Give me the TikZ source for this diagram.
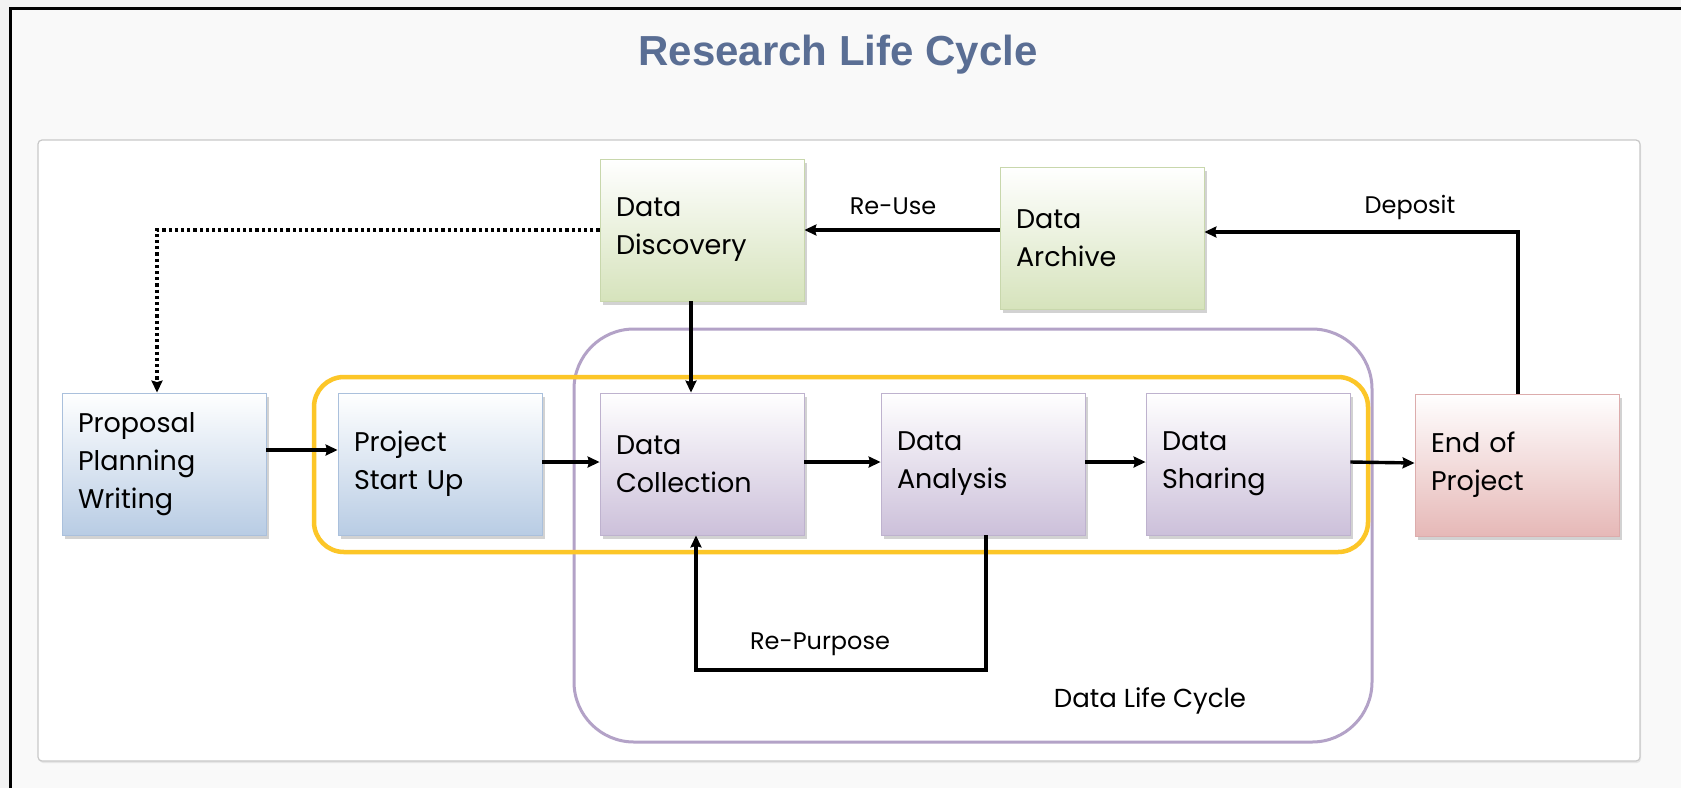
\documentclass[tikz,border=0pt]{standalone}
\usepackage{fontspec}
\setmainfont{Poppins}
\newfontfamily\titlefont{Liberation Sans}
\usetikzlibrary{arrows.meta,shadows}
\definecolor{bg_outer}{RGB}{242,242,242}
\definecolor{bg_inner}{RGB}{249,249,249}
\definecolor{panel_gray}{RGB}{200,200,200}
\definecolor{title_blue}{RGB}{90,110,148}
\definecolor{fill_blue}{RGB}{184,204,228}
\definecolor{line_blue}{RGB}{170,192,220}
\definecolor{fill_purple}{RGB}{204,192,218}
\definecolor{line_purple}{RGB}{190,178,206}
\definecolor{fill_green}{RGB}{214,227,188}
\definecolor{line_green}{RGB}{200,215,172}
\definecolor{fill_red}{RGB}{230,184,183}
\definecolor{line_red}{RGB}{220,172,172}
\definecolor{cycle_purple}{RGB}{179,162,199}
\definecolor{focus_yellow}{RGB}{252,198,40}

\begin{document}
\begin{tikzpicture}[x=1pt,y=-1pt,>={Stealth[length=12pt,width=11pt,inset=1.5pt]}]
    \tikzstyle{stage}=[draw, line width=0.8pt, minimum width=204pt, text width=172pt, inner xsep=16pt, inner ysep=0pt, minimum height=142pt, align=left, font=\fontsize{27}{38}\selectfont, drop shadow={shadow xshift=3pt,shadow yshift=-4pt,opacity=0.35}]
    \tikzstyle{bluestage}=[stage, draw=line_blue, top color=white, bottom color=fill_blue]
    \tikzstyle{purplestage}=[stage, draw=line_purple, top color=white, bottom color=fill_purple]
    \tikzstyle{greenstage}=[stage, draw=line_green, top color=white, bottom color=fill_green]
    \tikzstyle{redstage}=[stage, draw=line_red, top color=white, bottom color=fill_red]
    \tikzstyle{flow}=[->, line width=3.4pt]
    \tikzstyle{dotflow}=[->, line width=3.2pt, dash pattern=on 3.2pt off 3pt]
    \tikzstyle{tag}=[anchor=base, font=\fontsize{24}{28}\selectfont]

    \useasboundingbox (0,0) rectangle (1681,788);
    \fill[bg_outer] (0,0) rectangle (1681,788);
    \fill[bg_inner] (10,8) rectangle (1681,788);
    \draw[line width=3pt] (10,788) -- (10,8) -- (1681,8);
    \draw[panel_gray, fill=white, rounded corners=4pt, line width=1.2pt, drop shadow={shadow xshift=1pt,shadow yshift=-2pt,opacity=0.15}] (38,140) rectangle (1640,761);

    \node[anchor=base, text=title_blue, font=\titlefont\bfseries\fontsize{42}{50}\selectfont] (title) at (838,65) {Research Life Cycle};

    \draw[cycle_purple, line width=3pt, rounded corners=60pt] (574,329) rectangle (1372,742);
    \draw[focus_yellow, line width=4.5pt, rounded corners=30pt] (314,377) rectangle (1368,552);

    \node[bluestage]   (prop)  at (164,464)  {Proposal\\Planning\\Writing};
    \node[bluestage]   (start) at (440,464)  {Project\\Start Up};
    \node[purplestage] (coll)  at (702,464)  {Data\\Collection};
    \node[purplestage] (anal)  at (983,464)  {Data\\Analysis};
    \node[purplestage] (shar)  at (1248,464) {Data\\Sharing};
    \node[redstage]    (endp)  at (1517,465) {End of\\Project};
    \node[greenstage]  (disc)  at (702,230)  {Data\\Discovery};
    \node[greenstage]  (arch)  at (1102,238) {Data\\Archive};

    \coordinate (depo) at (1518,232);
    \coordinate (rp)   at (840,670);

    \path[flow]
     ([yshift=14pt]prop.east) edge ([yshift=14pt]start.west)
     ([yshift=2pt]start.east) edge ([yshift=2pt]coll.west)
     ([yshift=2pt]coll.east)  edge ([yshift=2pt]anal.west)
     ([yshift=2pt]anal.east)  edge ([yshift=2pt]shar.west)
     ([yshift=2pt]shar.east)  edge ([yshift=2pt]endp.west)
     ([xshift=-11pt]disc.south) edge ([xshift=-11pt]coll.north)
     (arch.west |- disc.east) edge (disc.east)
     ;
    \draw[flow] (endp.north -| depo) -- (depo) -- (arch.east |- depo);
    \draw[flow] ([xshift=3pt]anal.south) |- (rp) -| ([xshift=-6pt]coll.south);
    \draw[dotflow] (disc.west) -| ([xshift=-7pt]prop.north);

    \node[tag] (reuse)   at (893,214)  {Re-Use};
    \node[tag] (deposit) at (1410,213) {Deposit};
    \node[tag] (repurp)  at (820,649)  {Re-Purpose};
    \node[tag, font=\fontsize{26}{30}\selectfont] (dlc) at (1150,707) {Data Life Cycle};
\end{tikzpicture}
\end{document}
